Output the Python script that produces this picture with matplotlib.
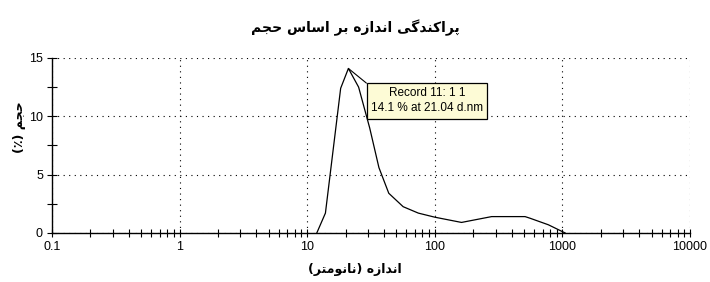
import matplotlib
matplotlib.use("Agg")
import matplotlib.pyplot as plt
from matplotlib.ticker import FixedLocator, NullFormatter

# size (d.nm) and volume (%)
size_nm = [11.9, 13.9, 18.3, 21.04, 25.3, 30.9, 36.5, 43.6, 56.5, 74.3, 100, 162, 279, 510, 558, 776, 1050]
volume = [0.0, 1.7, 12.4, 14.1, 12.5, 9.0, 5.6, 3.4, 2.25, 1.7, 1.35, 0.9, 1.4, 1.4, 1.26, 0.7, 0.0]

title = "پراکندگی اندازه بر اساس حجم"
xlabel = "اندازه (نانومتر)"
ylabel = "حجم (٪)"
x_ticks = [0.1, 1, 10, 100, 1000, 10000]
x_tick_labels = ["0.1", "1", "10", "100", "1000", "10000"]
y_ticks = [0, 5, 10, 15]
note = "Record 11: 1 1\n14.1 % at 21.04 d.nm"

# minimal Persian shaper (no arabic_reshaper available)
FORMS = {
    "ا": (0xFE8D, 0xFE8E, None, None),
    "ب": (0xFE8F, 0xFE90, 0xFE91, 0xFE92),
    "پ": (0xFB56, 0xFB57, 0xFB58, 0xFB59),
    "ت": (0xFE95, 0xFE96, 0xFE97, 0xFE98),
    "ج": (0xFE9D, 0xFE9E, 0xFE9F, 0xFEA0),
    "ح": (0xFEA1, 0xFEA2, 0xFEA3, 0xFEA4),
    "د": (0xFEA9, 0xFEAA, None, None),
    "ر": (0xFEAD, 0xFEAE, None, None),
    "ز": (0xFEAF, 0xFEB0, None, None),
    "س": (0xFEB1, 0xFEB2, 0xFEB3, 0xFEB4),
    "ک": (0xFB8E, 0xFB8F, 0xFB90, 0xFB91),
    "گ": (0xFB92, 0xFB93, 0xFB94, 0xFB95),
    "م": (0xFEE1, 0xFEE2, 0xFEE3, 0xFEE4),
    "ن": (0xFEE5, 0xFEE6, 0xFEE7, 0xFEE8),
    "ه": (0xFEE9, 0xFEEA, 0xFEEB, 0xFEEC),
    "و": (0xFEED, 0xFEEE, None, None),
    "ی": (0xFBFC, 0xFBFD, 0xFBFE, 0xFBFF),
}


def shape(text):
    out = []
    for i, ch in enumerate(text):
        if ch not in FORMS:
            out.append(ch)
            continue
        prev = text[i - 1] if i > 0 else ""
        nxt = text[i + 1] if i + 1 < len(text) else ""
        join_prev = prev in FORMS and FORMS[prev][2] is not None
        join_next = FORMS[ch][2] is not None and nxt in FORMS
        iso, fin, ini, med = FORMS[ch]
        if join_prev and join_next:
            code = med
        elif join_prev:
            code = fin
        elif join_next:
            code = ini
        else:
            code = iso
        out.append(chr(code))
    swap = {"(": ")", ")": "("}
    return "".join(swap.get(c, c) for c in reversed(out))


plt.rcParams["font.family"] = ["Liberation Sans", "DejaVu Sans"]

fig = plt.figure(figsize=(7.1, 2.82), dpi=100)
ax = fig.add_axes([0.0732, 0.174, 0.8986, 0.6205])

ax.plot(size_nm, volume, color="black", lw=0.9)
ax.set_xscale("log")
ax.set_xlim(0.1, 10000)
ax.set_ylim(0, 15)

ax.set_xticks(x_ticks)
ax.set_xticklabels(x_tick_labels)
ax.xaxis.set_minor_locator(FixedLocator([m * d for d in x_ticks[:-1] for m in range(2, 10)]))
ax.xaxis.set_minor_formatter(NullFormatter())
ax.set_yticks(y_ticks)
ax.yaxis.set_minor_locator(FixedLocator([2.5, 7.5, 12.5]))

ax.tick_params(which="both", direction="inout", length=6, width=0.8, labelsize=9, colors="black", pad=3)
ax.tick_params(axis="y", which="both", length=7)
for s in ("top", "right"):
    ax.spines[s].set_visible(False)
for s in ("left", "bottom"):
    ax.spines[s].set_linewidth(1.0)

ax.grid(True, which="major", color="black", linestyle=(0, (1, 4)), lw=0.8)
ax.set_axisbelow(True)

fig.text(0.5, 0.9, shape(title), ha="center", va="center", fontsize=10, family="DejaVu Sans", weight="bold")
fig.text(0.5, 0.045, shape(xlabel), ha="center", va="center", fontsize=9, family="DejaVu Sans", weight="bold")
fig.text(0.028, 0.55, shape(ylabel), ha="center", va="center", rotation=90, fontsize=9, family="DejaVu Sans", weight="bold")

peak_x = size_nm[3]
peak_y = volume[3]
ax.annotate(note, xy=(peak_x, peak_y), xytext=(0.5, 0.835), textcoords="axes fraction",
            ha="left", va="top", multialignment="center", fontsize=8.5, linespacing=1.4,
            bbox=dict(boxstyle="square,pad=0.35", fc="#fdfbd6", ec="black", lw=0.9),
            arrowprops=dict(arrowstyle="-", color="black", lw=0.8, shrinkA=0, shrinkB=0,
                            relpos=(0, 1)))

fig.savefig("out.png", dpi=100)
